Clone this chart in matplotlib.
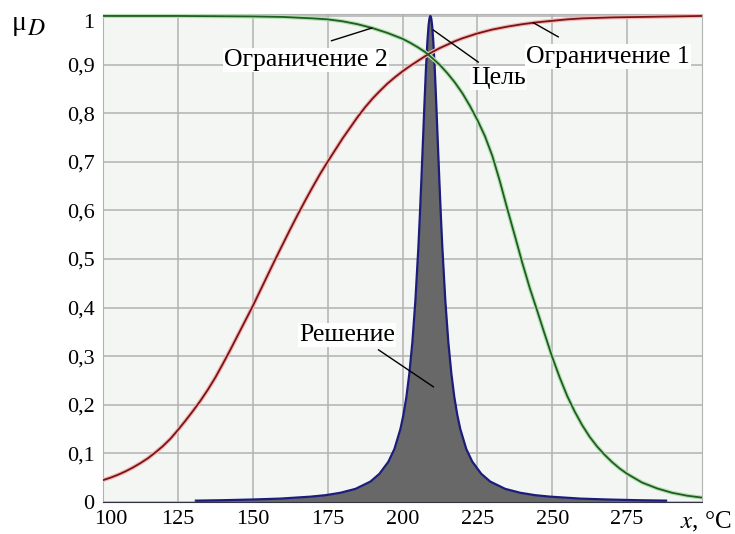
import matplotlib
matplotlib.use("Agg")
import matplotlib.pyplot as plt
from matplotlib.transforms import ScaledTranslation

plt.rcParams["font.family"] = ["Liberation Serif", "DejaVu Serif"]
plt.rcParams["mathtext.fontset"] = "stix"

# constraint 1 (red, rising)
c1_x = [100, 102.5, 105, 107.5, 110, 112.5, 115, 117.5, 120, 122.5, 125, 127.5, 130,
        132.5, 135, 137.5, 140, 142.5, 145, 147.5, 150, 152.5, 155, 157.5, 160, 162.5,
        165, 167.5, 170, 172.5, 175, 177.5, 180, 182.5, 185, 187.5, 190, 192.5, 195,
        197.5, 200, 202.5, 205, 207.5, 210, 212.5, 215, 217.5, 220, 225, 230, 235,
        240, 245, 250, 255, 260, 265, 270, 280, 290, 300]
c1_y = [0.045, 0.050, 0.056, 0.063, 0.071, 0.080, 0.090, 0.102, 0.115, 0.130, 0.148,
        0.167, 0.187, 0.208, 0.231, 0.256, 0.284, 0.313, 0.343, 0.373, 0.403, 0.435,
        0.467, 0.499, 0.530, 0.561, 0.591, 0.620, 0.648, 0.675, 0.700, 0.724, 0.748,
        0.770, 0.792, 0.812, 0.830, 0.846, 0.861, 0.874, 0.886, 0.897, 0.907, 0.917,
        0.926, 0.934, 0.941, 0.948, 0.954, 0.964, 0.972, 0.978, 0.983, 0.987, 0.990,
        0.993, 0.995, 0.996, 0.997, 0.998, 0.999, 1.0]

# constraint 2 (green, falling)
c2_x = [100, 125, 150, 160, 170, 175, 180, 185, 190, 195, 200, 202.5, 205, 207.5, 210,
        212.5, 215, 217.5, 220, 222.5, 225, 227.5, 230, 232.5, 235, 237.5, 240, 242.5,
        245, 247.5, 250, 252.5, 255, 257.5, 260, 262.5, 265, 267.5, 270, 272.5, 275,
        280, 285, 290, 295, 300]
c2_y = [1.0, 1.0, 0.999, 0.998, 0.995, 0.993, 0.989, 0.983, 0.975, 0.965, 0.953, 0.945,
        0.936, 0.926, 0.913, 0.899, 0.882, 0.863, 0.841, 0.815, 0.786, 0.753, 0.712,
        0.660, 0.603, 0.548, 0.492, 0.440, 0.393, 0.345, 0.298, 0.256, 0.218, 0.186,
        0.158, 0.134, 0.114, 0.097, 0.082, 0.069, 0.058, 0.040, 0.028, 0.019, 0.013,
        0.009]

# goal / solution (blue peak)
goal_x = [131, 139.3, 149.3, 159.3, 169.3, 174.3, 179.3, 184.3, 189.3, 192.3, 195.3,
          197.3, 199.3, 200.3, 201.3, 202.3, 203.3, 204.3, 205.3, 205.8, 206.3, 206.8,
          207.3, 207.8, 208.3, 208.7, 209.0, 209.3, 209.6, 209.9, 210.3, 210.8, 211.3,
          211.8, 212.3, 212.8, 213.3, 214.3, 215.3, 216.3, 217.3, 218.3, 219.3, 221.3,
          223.3, 226.3, 229.3, 234.3, 239.3, 244.3, 249.3, 259.3, 269.3, 279.3, 288]
goal_y = [0.0028, 0.0036, 0.005, 0.007, 0.011, 0.014, 0.019, 0.027, 0.042, 0.058, 0.083,
          0.109, 0.15, 0.179, 0.216, 0.265, 0.329, 0.414, 0.524, 0.59, 0.662, 0.738,
          0.815, 0.887, 0.946, 0.98, 0.995, 1.0, 0.995, 0.98, 0.946, 0.887, 0.815,
          0.738, 0.662, 0.59, 0.524, 0.414, 0.329, 0.265, 0.216, 0.179, 0.15, 0.109,
          0.083, 0.058, 0.042, 0.027, 0.019, 0.014, 0.011, 0.007, 0.005, 0.0036, 0.0028]

x_ticks = [100, 125, 150, 175, 200, 225, 250, 275]
y_ticks = [0, 0.1, 0.2, 0.3, 0.4, 0.5, 0.6, 0.7, 0.8, 0.9, 1]
y_labels = ["0", "0,1", "0,2", "0,3", "0,4", "0,5", "0,6", "0,7", "0,8", "0,9", "1"]

fig = plt.figure(figsize=(7.35, 5.34), dpi=100)
ax = fig.add_axes([103 / 735, 32 / 534, 599 / 735, 488 / 534])
ax.set_facecolor("#f4f6f4")

ax.fill_between(goal_x, goal_y, 0, color="#686868", lw=0, zorder=2)
ax.plot(goal_x, goal_y, color="#1c1c7c", lw=1.6, zorder=3)
ax.plot(c1_x, c1_y, color="#f2b8b8", lw=3.0, zorder=3)
ax.plot(c1_x, c1_y, color="#7a1414", lw=1.3, zorder=4)
ax.plot(c2_x, c2_y, color="#b8e0b8", lw=3.0, zorder=3)
ax.plot(c2_x, c2_y, color="#1e5e1e", lw=1.3, zorder=4)

ax.set_xlim(100, 300)
ax.set_ylim(0, 1.004)
ax.set_xticks(x_ticks)
ax.set_yticks(y_ticks)
ax.set_yticklabels(y_labels)
ax.grid(True, color="#b2b2b2", lw=1.1)
ax.set_axisbelow(True)
ax.tick_params(length=0, labelsize=16, colors="black")
ax.tick_params(axis="x", pad=6)
ax.tick_params(axis="y", pad=6)
for s in ["top", "right", "left"]:
    ax.spines[s].set_color("#b2b2b2")
ax.spines["bottom"].set_color("#333344")

# first x label nudged right, top y label nudged down
xl = ax.get_xticklabels()
xl[0].set_transform(xl[0].get_transform() + ScaledTranslation(8 / 100, 0, fig.dpi_scale_trans))
yl = ax.get_yticklabels()
yl[-1].set_transform(yl[-1].get_transform() + ScaledTranslation(0, -5 / 100, fig.dpi_scale_trans))

box = dict(facecolor="white", edgecolor="none", pad=1)
fs = 18.5
ax.plot([176.3, 189.7], [0.949, 0.975], color="black", lw=1, zorder=5)
ax.text(167.7, 0.909, "Ограничение 2", fontsize=fs, ha="center", va="center", bbox=box, zorder=6)
ax.plot([243.7, 252], [0.986, 0.957], color="black", lw=1, zorder=5)
ax.text(268.7, 0.916, "Ограничение 1", fontsize=fs, ha="center", va="center", bbox=box, zorder=6)
ax.plot([210.3, 225.3], [0.971, 0.905], color="black", lw=1, zorder=5)
ax.text(232, 0.872, "Цель", fontsize=fs, ha="center", va="center", bbox=box, zorder=6)
ax.plot([192, 210.3], [0.313, 0.237], color="black", lw=1, zorder=5)
ax.text(181.5, 0.344, "Решение", fontsize=fs, ha="center", va="center", bbox=box, zorder=6)

fig.text(12 / 735, 1 - 30 / 534, "μ", fontsize=20, va="baseline", ha="left")
fig.text(27 / 735, 1 - 35 / 534, "$D$", fontsize=17, va="baseline", ha="left")
fig.text(680 / 735, 1 - 522 / 534, "$x$, °C", fontsize=18, va="center", ha="left")

fig.savefig("out.png", dpi=100)
